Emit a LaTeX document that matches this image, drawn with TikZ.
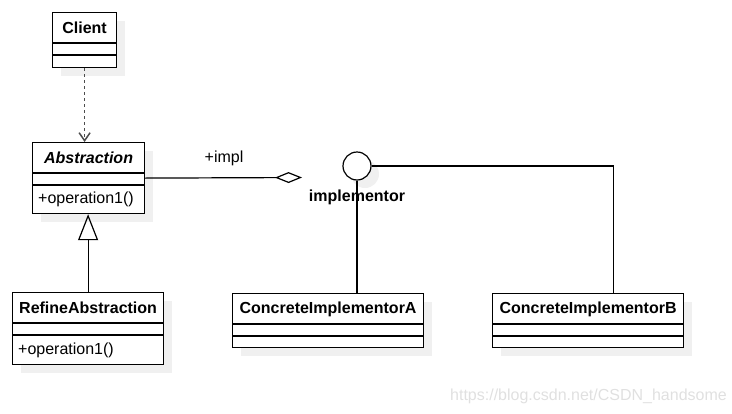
\documentclass[tikz,border=0pt]{standalone}
\usepackage{fontspec}
\setmainfont{Liberation Sans}
\usetikzlibrary{arrows.meta,positioning,calc,shadows}

\begin{document}
\begin{tikzpicture}[x=1pt,y=-1pt,font=\fontsize{16}{19}\selectfont,
  shd/.style={drop shadow={shadow xshift=8pt,shadow yshift=-8pt,fill=black!6,opacity=1}},
  cls/.style={draw,line width=1.2pt,fill=white,anchor=north west,inner sep=0pt,shd},
  sep/.style={line width=1.2pt},
  ttl/.style={font=\fontsize{16}{19}\selectfont\bfseries,inner sep=0pt},
  meth/.style={anchor=west,inner sep=0pt},
  lab/.style={inner sep=1pt},
  dep/.style={-{Straight Barb[length=8pt,width=11pt]},dash pattern=on 3pt off 3pt,line width=1.5pt,black!70},
  gen/.style={-{Triangle[open,length=26pt,width=20pt]},line width=1.2pt},
  agg/.style={-{Diamond[open,length=27pt,width=11pt]},line width=1.2pt},
  lnk/.style={line width=1.2pt}]
  \useasboundingbox (0,0) rectangle (732,413);
  % classes: name/x/y/width/height/title
  \foreach \n/\x/\y/\w/\h/\t in {client/52/12/64/55/Client,
      abs/32/142/112/71/\textit{Abstraction},
      refine/12/292/151/72/RefineAbstraction,
      concA/232/293/191/54/ConcreteImplementorA,
      concB/492/293/191/54/ConcreteImplementorB}{
    \node[cls,minimum width=\w pt,minimum height=\h pt] (\n) at (\x,\y) {};
    \node[ttl] (\n-t) at ($(\n.north)+(0,16)$) {\t};
    \draw[sep] ($(\n.north west)+(0,31)$) -- ($(\n.north east)+(0,31)$);
    \draw[sep] ($(\n.north west)+(0,43)$) -- ($(\n.north east)+(0,43)$);
  }
  \node[meth] (abs-m) at ($(abs.north west)+(6,57.5)$) {+operation1()};
  \node[meth] (refine-m) at ($(refine.north west)+(6,58)$) {+operation1()};

  % interface
  \node[circle,draw,line width=1.2pt,fill=white,minimum size=28pt,inner sep=0pt,shd] (impl) at (357,166) {};
  \node[ttl] (impl-t) at (357,197) {implementor};

  \draw[dep] (client.south) -- (client.south |- abs.north);
  \draw[gen] (refine.north) -- (refine.north |- abs.south);
  \coordinate (aggEnd) at (302,177.5);
  \draw[agg] (abs.east) -- (aggEnd);
  \node[lab] (impl-lab) at (224,158) {+impl};
  \draw[lnk] (impl.south) -- (impl.south |- concA.north);
  \coordinate (bJoin) at ($(concB.north)+(25.5,0)$);
  \draw[lnk] (impl.east) -| (bJoin);

  \node[anchor=east,inner sep=0pt,text=black!12] (wm) at (727,396) {https://blog.csdn.net/CSDN\_handsome};
\end{tikzpicture}
\end{document}
